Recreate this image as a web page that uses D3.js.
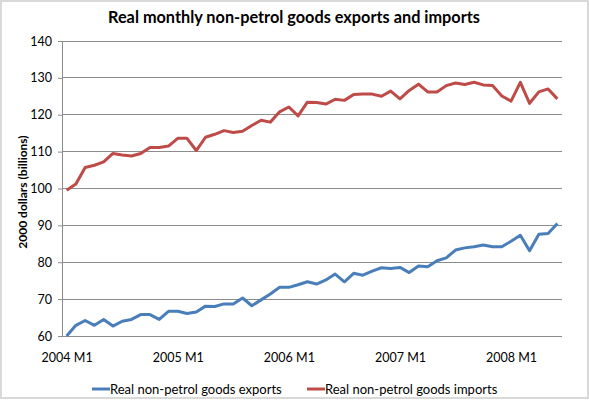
<!DOCTYPE html>
<html>
<head>
<meta charset="utf-8">
<script src="https://cdn.jsdelivr.net/npm/d3@7"></script>
<style>
  body { margin: 0; background: #fff; }
  text { font-family: Lato, "Open Sans", sans-serif; fill: #000; }
</style>
</head>
<body>
<div id="chart"></div>
<script>
var width = 589,
    height = 401;

var margin = {top: 41, right: 27, bottom: 65, left: 62};
var font = "Lato, 'Open Sans', sans-serif";

// months 2004 M1 .. 2008 M6
var years = [2004, 2005, 2006, 2007, 2008];
var months = [];
years.forEach(function(y) {
  for (var m = 1; m <= 12; m++) {
    if (y === 2008 && m > 6) break;
    months.push(y + " M" + m);
  }
});

var exports = [60, 62.9, 64.2, 62.9, 64.5, 62.7, 64.0, 64.5, 65.8, 65.8, 64.5, 66.7,
               66.7, 66.1, 66.5, 68.1, 68.0, 68.7, 68.7, 70.3, 68.2, 69.8, 71.4, 73.2,
               73.2, 73.9, 74.7, 74.1, 75.2, 76.8, 74.7, 77.0, 76.5, 77.6, 78.5, 78.3,
               78.6, 77.2, 79.0, 78.8, 80.4, 81.2, 83.3, 83.9, 84.2, 84.7, 84.2, 84.2,
               85.7, 87.3, 83.1, 87.6, 87.8, 90.5];

var imports = [99.5, 101.2, 105.7, 106.3, 107.2, 109.5, 109.1, 108.8, 109.5, 111.1, 111.1, 111.5,
               113.6, 113.6, 110.3, 113.9, 114.7, 115.7, 115.2, 115.5, 117.1, 118.5, 118.0, 120.8,
               122.1, 119.7, 123.4, 123.3, 122.9, 124.2, 123.9, 125.5, 125.6, 125.6, 125.0, 126.4,
               124.3, 126.6, 128.3, 126.2, 126.2, 127.9, 128.6, 128.2, 128.8, 128.1, 127.9, 125.1,
               123.7, 128.8, 123.1, 126.2, 127.0, 124.3];

var seriesNames = ["Real non-petrol goods exports", "Real non-petrol goods imports"];
var color = ["#4a7ebb", "#be4b48"];
var yTicks = [60, 70, 80, 90, 100, 110, 120, 130, 140];

var svg = d3.select("#chart")
  .append("svg")
  .attr("width", width)
  .attr("height", height);

// chart border
svg.append("rect")
  .attr("x", 1).attr("y", 1)
  .attr("width", width - 2).attr("height", height - 4)
  .attr("fill", "#fff")
  .attr("stroke", "#d9d9d9")
  .attr("stroke-width", 2);

var x = d3.scalePoint()
  .domain(months)
  .range([margin.left, width - margin.right])
  .padding(0.5);

var y = d3.scaleLinear()
  .domain([60, 140])
  .range([height - margin.bottom, margin.top]);

// gridlines
svg.append("g")
  .selectAll("line")
  .data(yTicks)
  .enter()
  .append("line")
  .attr("x1", margin.left)
  .attr("x2", width - margin.right)
  .attr("y1", function(d) { return y(d); })
  .attr("y2", function(d) { return y(d); })
  .attr("stroke", "#8c8c8c")
  .attr("stroke-width", 1)
  .attr("shape-rendering", "crispEdges");

// y axis
var yAxis = svg.append("g")
  .attr("transform", "translate(" + margin.left + ",0)")
  .call(d3.axisLeft(y).tickValues(yTicks).tickSize(4).tickPadding(6));
yAxis.select(".domain").attr("stroke", "#8c8c8c");
yAxis.selectAll(".tick line").attr("stroke", "#8c8c8c");
yAxis.selectAll("text").attr("font-size", "12.5px").attr("font-family", font).attr("fill", "#000");

// x axis labels (every 12 months)
var xAxis = svg.append("g")
  .attr("transform", "translate(0," + (height - margin.bottom) + ")")
  .call(d3.axisBottom(x)
    .tickValues(months.filter(function(d) { return /M1$/.test(d); }))
    .tickSize(0).tickPadding(17));
xAxis.select(".domain").attr("stroke", "#8c8c8c")
  .attr("d", "M" + margin.left + ",0.5H" + (width - margin.right));
xAxis.selectAll("text").attr("font-size", "12.5px").attr("font-family", font).attr("fill", "#000");

// lines
var line = d3.line()
  .x(function(d, i) { return x(months[i]); })
  .y(function(d) { return y(d); });

[exports, imports].forEach(function(s, i) {
  svg.append("path")
    .datum(s)
    .attr("fill", "none")
    .attr("stroke", color[i])
    .attr("stroke-width", 3)
    .attr("stroke-linejoin", "round")
    .attr("d", line);
});

// title
svg.append("text")
  .attr("x", 294)
  .attr("y", 23)
  .attr("text-anchor", "middle")
  .attr("font-size", "16.3px")
  .attr("font-weight", "bold")
  .text("Real monthly non-petrol goods exports and imports");

// y axis title
svg.append("text")
  .attr("transform", "translate(27,192) rotate(-90)")
  .attr("text-anchor", "middle")
  .attr("font-size", "12px")
  .attr("font-weight", "bold")
  .text("2000 dollars (billions)");

// legend
var legendX = [92, 307];
var legend = svg.selectAll(".legend")
  .data(seriesNames)
  .enter()
  .append("g")
  .attr("class", "legend")
  .attr("transform", function(d, i) { return "translate(" + legendX[i] + ",389)"; });

legend.append("line")
  .attr("x1", 0).attr("x2", 18)
  .attr("y1", 0).attr("y2", 0)
  .attr("stroke", function(d, i) { return color[i]; })
  .attr("stroke-width", 3);

legend.append("text")
  .attr("x", 18)
  .attr("y", 4.5)
  .attr("font-size", "13px")
  .text(function(d) { return d; });
</script>
</body>
</html>
